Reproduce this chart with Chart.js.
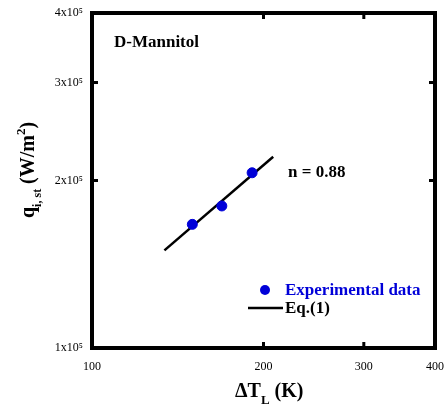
<!DOCTYPE html>
<html>
<head>
<meta charset="utf-8">
<script src="https://cdn.jsdelivr.net/npm/chart.js@4.4.1/dist/chart.umd.min.js"></script>
<style>
html,body{margin:0;padding:0;background:#fff;}
#wrap{width:447px;height:407px;}
</style>
</head>
<body>
<div id="wrap"><canvas id="c" width="447" height="407"></canvas></div>
<script>
const xTickValues = [100, 200, 300, 400];
const xTickLabels = ['100', '200', '300', '400'];
const yTickValues = [100000, 200000, 300000, 400000];
const yTickLabels = ['1x10⁵', '2x10⁵', '3x10⁵', '4x10⁵'];
const expX = [150, 169, 191];
const expY = [166800, 180000, 206500];
const fitX = [134, 208];
const fitY = [149800, 220700];
const seriesNames = ['Experimental data', 'Eq.(1)'];
const sampleName = 'D-Mannitol';
const exponentText = 'n = 0.88';

const SERIF = '"Liberation Serif", "Times New Roman", serif';
const BLUE = '#0000d8';

const framePlugin = {
  id: 'frame',
  afterDraw(chart) {
    const ctx = chart.ctx;
    const a = chart.chartArea;
    const xs = chart.scales.x, ys = chart.scales.y;
    ctx.save();
    ctx.strokeStyle = '#000';
    ctx.lineWidth = 4;
    ctx.strokeRect(a.left, a.top, a.right - a.left, a.bottom - a.top);
    ctx.fillStyle = '#000';
    xTickValues.forEach(v => {
      if (v === xs.min || v === xs.max) return;
      const px = xs.getPixelForValue(v);
      ctx.fillRect(px - 1.5, a.bottom - 6, 3, 6);
      ctx.fillRect(px - 1.5, a.top, 3, 6);
    });
    yTickValues.forEach(v => {
      if (v === ys.min || v === ys.max) return;
      const py = ys.getPixelForValue(v);
      ctx.fillRect(a.left, py - 1.5, 6, 3);
      ctx.fillRect(a.right - 6, py - 1.5, 6, 3);
    });

    ctx.textBaseline = 'middle';
    ctx.textAlign = 'left';
    ctx.font = 'bold 17px ' + SERIF;
    ctx.fillText(sampleName, 114, 43);
    ctx.fillText(exponentText, 288, 173);

    const ds0 = chart.data.datasets[0], ds1 = chart.data.datasets[1];
    ctx.fillStyle = ds0.backgroundColor;
    ctx.beginPath();
    ctx.arc(265, 290, 5, 0, Math.PI * 2);
    ctx.fill();
    ctx.font = 'bold 17px ' + SERIF;
    ctx.fillText(seriesNames[0], 285, 291);
    ctx.strokeStyle = ds1.borderColor;
    ctx.lineWidth = ds1.borderWidth;
    ctx.beginPath();
    ctx.moveTo(248, 308);
    ctx.lineTo(283, 308);
    ctx.stroke();
    ctx.fillStyle = '#000';
    ctx.fillText(seriesNames[1], 285, 309);

    ctx.textBaseline = 'alphabetic';
    let x = 235, yb = 397;
    ctx.font = 'bold 20px ' + SERIF;
    ctx.fillText('ΔT', x, yb); x += ctx.measureText('ΔT').width;
    ctx.font = 'bold 13px ' + SERIF;
    ctx.fillText('L', x, yb + 7); x += ctx.measureText('L').width;
    ctx.font = 'bold 20px ' + SERIF;
    ctx.fillText(' (K)', x, yb);

    ctx.save();
    ctx.translate(34, 218);
    ctx.rotate(-Math.PI / 2);
    let t = 0;
    ctx.font = 'bold 20px ' + SERIF;
    ctx.fillText('q', t, 0); t += ctx.measureText('q').width;
    ctx.font = 'bold 12px ' + SERIF;
    ctx.fillText('i, st', t, 7); t += ctx.measureText('i, st').width;
    ctx.font = 'bold 20px ' + SERIF;
    ctx.fillText(' (W/m', t, 0); t += ctx.measureText(' (W/m').width;
    ctx.font = 'bold 13px ' + SERIF;
    ctx.fillText('2', t, -9); t += ctx.measureText('2').width;
    ctx.font = 'bold 20px ' + SERIF;
    ctx.fillText(')', t, 0);
    ctx.restore();
    ctx.restore();
  }
};

new Chart(document.getElementById('c'), {
  type: 'scatter',
  data: {
    datasets: [
      {
        label: seriesNames[0],
        data: expX.map((v, i) => ({x: v, y: expY[i]})),
        backgroundColor: BLUE,
        borderColor: BLUE,
        pointRadius: 5,
        pointHoverRadius: 5,
        showLine: false
      },
      {
        label: seriesNames[1],
        data: fitX.map((v, i) => ({x: v, y: fitY[i]})),
        borderColor: '#000',
        backgroundColor: '#000',
        borderWidth: 2.5,
        pointRadius: 0,
        showLine: true
      }
    ]
  },
  options: {
    responsive: false,
    animation: false,
    devicePixelRatio: 1,
    layout: {padding: {top: 13, right: 12, left: 0, bottom: 0}},
    plugins: {legend: {display: false}, tooltip: {enabled: false}},
    scales: {
      x: {
        type: 'logarithmic',
        min: 100, max: 400,
        grid: {display: false, drawTicks: false},
        border: {display: false},
        afterBuildTicks: s => { s.ticks = xTickValues.map(v => ({value: v})); },
        afterFit: s => { s.height = 59; s.paddingLeft = 0; s.paddingRight = 0; },
        ticks: {
          padding: 12,
          color: '#000',
          font: {family: SERIF, size: 12},
          maxRotation: 0,
          autoSkip: false,
          callback: (v) => { const i = xTickValues.indexOf(v); return i >= 0 ? xTickLabels[i] : ''; }
        }
      },
      y: {
        type: 'logarithmic',
        min: 100000, max: 400000,
        grid: {display: false, drawTicks: false},
        border: {display: false},
        afterBuildTicks: s => { s.ticks = yTickValues.map(v => ({value: v})); },
        afterFit: s => { s.width = 92; s.paddingTop = 0; s.paddingBottom = 0; },
        ticks: {
          padding: 9,
          color: '#000',
          font: {family: SERIF, size: 12},
          autoSkip: false,
          callback: (v) => { const i = yTickValues.indexOf(v); return i >= 0 ? yTickLabels[i] : ''; }
        }
      }
    }
  },
  plugins: [framePlugin]
});
</script>
</body>
</html>
